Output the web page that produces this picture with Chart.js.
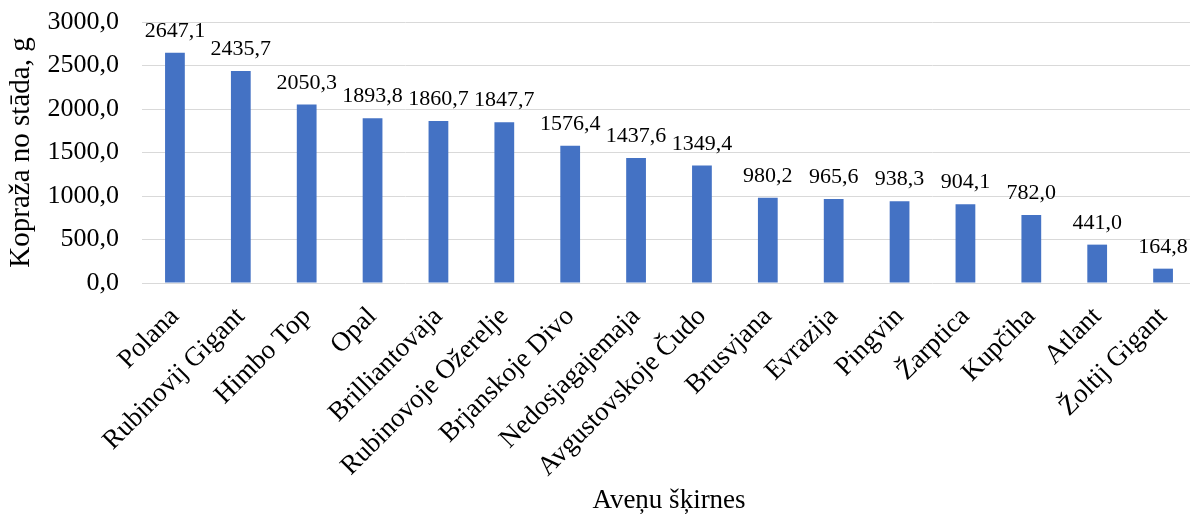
<!DOCTYPE html>
<html>
<head>
<meta charset="utf-8">
<script src="https://cdn.jsdelivr.net/npm/chart.js@4/dist/chart.umd.min.js"></script>
<style>
  html, body { margin: 0; padding: 0; background: #fff; overflow: hidden; }
  #wrap { position: relative; width: 1196px; height: 517px; }
</style>
</head>
<body>
<div id="wrap"><canvas id="c"></canvas></div>
<script>
// Raspberry cultivars and yield per plant (g)
const cultivars = [
  'Polana', 'Rubinovij Gigant', 'Himbo Top', 'Opal', 'Brilliantovaja',
  'Rubinovoje Ožerelje', 'Brjanskoje Divo', 'Nedosjagajemaja', 'Avgustovskoje Čudo',
  'Brusvjana', 'Evrazija', 'Pingvin', 'Žarptica', 'Kupčiha', 'Atlant', 'Žoltij Gigant'
];
const yieldPerPlant = [
  2647.1, 2435.7, 2050.3, 1893.8, 1860.7, 1847.7, 1576.4, 1437.6, 1349.4,
  980.2, 965.6, 938.3, 904.1, 782.0, 441.0, 164.8
];
const yTicks = [0, 500, 1000, 1500, 2000, 2500, 3000];

const SERIF = '"Liberation Serif", "Times New Roman", serif';
const fmt = v => v.toFixed(1).replace('.', ',');

// Value labels above each bar
const barValueLabels = {
  id: 'barValueLabels',
  afterDatasetsDraw(chart) {
    const ctx = chart.ctx;
    const meta = chart.getDatasetMeta(0);
    ctx.save();
    ctx.font = '22px ' + SERIF;
    ctx.fillStyle = '#000';
    ctx.textAlign = 'center';
    ctx.textBaseline = 'alphabetic';
    meta.data.forEach((bar, i) => {
      ctx.fillText(fmt(yieldPerPlant[i]), bar.x, bar.y - 16);
    });
    ctx.restore();
  }
};

new Chart(document.getElementById('c'), {
  type: 'bar',
  data: {
    labels: cultivars,
    datasets: [{
      data: yieldPerPlant,
      backgroundColor: '#4472C4',
      borderWidth: 0,
      categoryPercentage: 0.3,
      barPercentage: 1.0
    }]
  },
  options: {
    responsive: true,
    maintainAspectRatio: false,
    animation: false,
    layout: { padding: 0 },
    plugins: {
      legend: { display: false },
      tooltip: { enabled: false }
    },
    scales: {
      x: {
        grid: { display: false },
        border: { display: false },
        ticks: {
          color: '#000',
          font: { family: SERIF, size: 27 },
          minRotation: 45,
          maxRotation: 45,
          autoSkip: false,
          padding: 10
        },
        title: {
          display: true,
          text: 'Aveņu šķirnes',
          color: '#000',
          font: { family: SERIF, size: 27 },
          padding: { top: 0, bottom: 0 }
        },
        afterFit(scale) {
          scale.height = 234;
          scale.paddingTop = 0;
          scale.paddingLeft = 0;
          scale.paddingRight = 0;
        }
      },
      y: {
        min: 0,
        max: 3000,
        afterBuildTicks(scale) { scale.ticks = yTicks.map(v => ({ value: v })); },
        grid: { color: '#d9d9d9', lineWidth: 1, drawTicks: false },
        border: { display: false },
        ticks: {
          color: '#000',
          font: { family: SERIF, size: 26 },
          padding: 23,
          callback: v => fmt(v)
        },
        title: {
          display: true,
          text: 'Kopraža no stāda, g',
          color: '#000',
          font: { family: SERIF, size: 29 },
          padding: { top: 4, bottom: 0 }
        },
        afterFit(scale) {
          scale.width = 142;
          scale.paddingTop = 22;
          scale.paddingBottom = 0;
        }
      }
    }
  },
  plugins: [barValueLabels]
});
</script>
</body>
</html>
